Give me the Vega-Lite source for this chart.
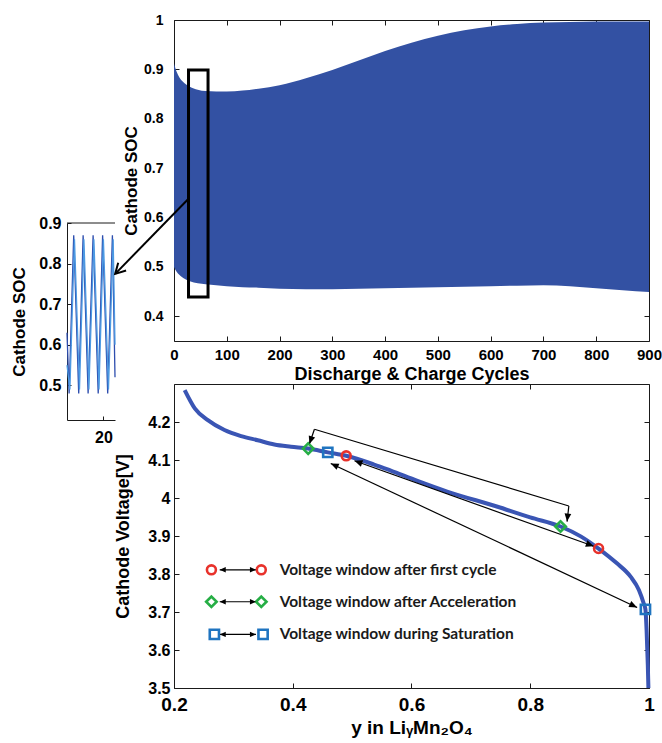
{
  "$schema": "https://vega.github.io/schema/vega-lite/v6.json",
  "background": "white",
  "padding": {"left": 10, "top": 12, "right": 0, "bottom": 0},
  "config": {
    "font": "Liberation Sans",
    "view": {"stroke": "#1a1a1a", "strokeWidth": 1},
    "axis": {
      "labelFont": "Liberation Sans",
      "labelFontWeight": "bold",
      "labelColor": "#000",
      "titleFont": "Liberation Sans",
      "titleFontWeight": "bold",
      "titleColor": "#000",
      "tickColor": "#1a1a1a",
      "domainColor": "#1a1a1a",
      "grid": false,
      "tickSize": -5,
      "labelFlush": false,
      "labelOverlap": false,
      "domain": false
    }
  },
  "spacing": -8,
  "hconcat": [
    {
      "spacing": 10,
      "vconcat": [
        {
          "width": 48,
          "height": 185,
          "view": {"stroke": null},
          "data": {"values": [{"k": 1}]},
          "mark": {"type": "point", "opacity": 0},
          "encoding": {}
        },
        {
          "width": 48,
          "height": 197,
          "view": {"stroke": null},
          "data": {
            "values": [
              {"t": 16.2, "v": 0.63, "s": "a"},
              {"t": 16.42, "v": 0.48, "s": "a"},
              {"t": 16.9, "v": 0.87, "s": "a"},
              {"t": 17.42, "v": 0.48, "s": "a"},
              {"t": 17.88, "v": 0.87, "s": "a"},
              {"t": 18.4, "v": 0.48, "s": "a"},
              {"t": 18.92, "v": 0.87, "s": "a"},
              {"t": 19.45, "v": 0.48, "s": "a"},
              {"t": 19.91, "v": 0.87, "s": "a"},
              {"t": 20.44, "v": 0.48, "s": "a"},
              {"t": 20.93, "v": 0.87, "s": "a"},
              {"t": 21.2, "v": 0.52, "s": "a"},
              {"t": 16.2, "v": 0.55, "s": "b"},
              {"t": 16.5, "v": 0.49, "s": "b"},
              {"t": 16.98, "v": 0.86, "s": "b"},
              {"t": 17.5, "v": 0.49, "s": "b"},
              {"t": 17.96, "v": 0.86, "s": "b"},
              {"t": 18.48, "v": 0.49, "s": "b"},
              {"t": 19.0, "v": 0.86, "s": "b"},
              {"t": 19.53, "v": 0.49, "s": "b"},
              {"t": 19.99, "v": 0.86, "s": "b"},
              {"t": 20.52, "v": 0.49, "s": "b"},
              {"t": 21.01, "v": 0.86, "s": "b"},
              {"t": 21.2, "v": 0.6, "s": "b"}
            ]
          },
          "layer": [
            {
              "transform": [{"filter": "datum.s == 'a'"}],
              "mark": {"type": "line", "strokeWidth": 1.3, "color": "#2D4DAE"},
              "encoding": {
                "x": {
                  "field": "t", "type": "quantitative",
                  "scale": {"domain": [16.2, 21.2], "nice": false, "zero": false},
                  "axis": {"values": [20], "format": "d", "labelFontSize": 16, "labelPadding": 13, "tickSize": -4, "domain": true, "title": null}
                },
                "y": {
                  "field": "v", "type": "quantitative",
                  "scale": {"domain": [0.415, 0.9], "nice": false, "zero": false},
                  "axis": {"values": [0.5, 0.6, 0.7, 0.8, 0.9], "format": ".1f", "labelFontSize": 16, "labelPadding": 10, "tickSize": -4, "domain": true, "title": "Cathode SOC", "titleFontSize": 17, "titlePadding": 10}
                },
                "order": {"field": "t", "type": "quantitative"}
              }
            },
            {
              "transform": [{"filter": "datum.s == 'b'"}],
              "mark": {"type": "line", "strokeWidth": 1.3, "color": "#4C9AE3"},
              "encoding": {
                "x": {"field": "t", "type": "quantitative"},
                "y": {"field": "v", "type": "quantitative"},
                "order": {"field": "t", "type": "quantitative"}
              }
            },
            {
              "data": {"values": [{"v": 0.9}]},
              "mark": {"type": "rule", "color": "#1a1a1a", "strokeWidth": 1},
              "encoding": {"y": {"field": "v", "type": "quantitative"}}
            }
          ]
        }
      ]
    },
    {
      "spacing": -4,
      "vconcat": [
        {
          "width": 475,
          "height": 321,
          "layer": [
            {
              "data": {
                "values": [
                  {"cycle": 0, "upper": 0.912, "lower": 0.5},
                  {"cycle": 5, "upper": 0.895, "lower": 0.49},
                  {"cycle": 10, "upper": 0.884, "lower": 0.484},
                  {"cycle": 20, "upper": 0.872, "lower": 0.476},
                  {"cycle": 30, "upper": 0.865, "lower": 0.471},
                  {"cycle": 45, "upper": 0.859, "lower": 0.467},
                  {"cycle": 60, "upper": 0.856, "lower": 0.465},
                  {"cycle": 80, "upper": 0.855, "lower": 0.463},
                  {"cycle": 100, "upper": 0.855, "lower": 0.461},
                  {"cycle": 130, "upper": 0.857, "lower": 0.459},
                  {"cycle": 160, "upper": 0.861, "lower": 0.458},
                  {"cycle": 200, "upper": 0.868, "lower": 0.456},
                  {"cycle": 250, "upper": 0.882, "lower": 0.455},
                  {"cycle": 300, "upper": 0.899, "lower": 0.455},
                  {"cycle": 350, "upper": 0.918, "lower": 0.456},
                  {"cycle": 400, "upper": 0.937, "lower": 0.457},
                  {"cycle": 450, "upper": 0.954, "lower": 0.458},
                  {"cycle": 500, "upper": 0.968, "lower": 0.459},
                  {"cycle": 550, "upper": 0.979, "lower": 0.46},
                  {"cycle": 600, "upper": 0.987, "lower": 0.461},
                  {"cycle": 650, "upper": 0.992, "lower": 0.462},
                  {"cycle": 700, "upper": 0.995, "lower": 0.463},
                  {"cycle": 750, "upper": 0.996, "lower": 0.461},
                  {"cycle": 800, "upper": 0.997, "lower": 0.457},
                  {"cycle": 850, "upper": 0.997, "lower": 0.453},
                  {"cycle": 900, "upper": 0.997, "lower": 0.449}
                ]
              },
              "mark": {"type": "area", "color": "#3351A3", "interpolate": "monotone"},
              "encoding": {
                "x": {
                  "field": "cycle", "type": "quantitative",
                  "scale": {"domain": [0, 900], "nice": false},
                  "axis": {"values": [0, 100, 200, 300, 400, 500, 600, 700, 800, 900], "format": "d", "labelFontSize": 15, "labelPadding": 11, "title": "Discharge & Charge Cycles", "titleFontSize": 18, "titlePadding": 3}
                },
                "y": {
                  "field": "upper", "type": "quantitative",
                  "scale": {"domain": [0.35, 1], "nice": false, "zero": false},
                  "axis": {"values": [0.4, 0.5, 0.6, 0.7, 0.8, 0.9, 1], "format": ".1~f", "labelFontSize": 14, "labelPadding": 16, "title": "Cathode SOC", "titleFontSize": 17, "titlePadding": 3}
                },
                "y2": {"field": "lower"}
              }
            },
            {
              "data": {"values": [{"c1": 27.5, "c2": 64.5, "s1": 0.439, "s2": 0.899}]},
              "mark": {"type": "rect", "filled": false, "stroke": "#000", "strokeWidth": 3},
              "encoding": {
                "x": {"field": "c1", "type": "quantitative", "axis": {"orient": "top", "values": [0, 100, 200, 300, 400, 500, 600, 700, 800, 900], "labels": false, "title": null}},
                "x2": {"field": "c2"},
                "y": {"field": "s1", "type": "quantitative", "axis": {"orient": "right", "values": [0.4, 0.5, 0.6, 0.7, 0.8, 0.9, 1], "labels": false, "title": null}},
                "y2": {"field": "s2"}
              }
            },
            {
              "data": {"values": [{"c1": 27.5, "s1": 0.638, "c2": -111.4, "s2": 0.486}]},
              "mark": {"type": "rule", "color": "#000", "strokeWidth": 2, "clip": false},
              "encoding": {
                "x": {"field": "c1", "type": "quantitative", "axis": null},
                "x2": {"field": "c2"},
                "y": {"field": "s1", "type": "quantitative", "axis": null},
                "y2": {"field": "s2"}
              }
            },
            {
              "data": {"values": [{"c1": -111.4, "s1": 0.486}]},
              "mark": {"type": "point", "shape": "M-1,-0.55L0,0L-1,0.55", "filled": false, "color": "#000", "strokeWidth": 2, "size": 400, "angle": 134, "opacity": 1, "clip": false},
              "encoding": {
                "x": {"field": "c1", "type": "quantitative", "axis": null},
                "y": {"field": "s1", "type": "quantitative", "axis": null}
              }
            }
          ],
          "resolve": {"axis": {"x": "independent", "y": "independent"}}
        },
        {
          "width": 475,
          "height": 304,
          "layer": [
            {
              "data": {
                "values": [
                  {"x": 0.218, "v": 4.284}, {"x": 0.235, "v": 4.236}, {"x": 0.257, "v": 4.205},
                  {"x": 0.285, "v": 4.179}, {"x": 0.313, "v": 4.163}, {"x": 0.341, "v": 4.152},
                  {"x": 0.369, "v": 4.141}, {"x": 0.397, "v": 4.135}, {"x": 0.426, "v": 4.13},
                  {"x": 0.459, "v": 4.12}, {"x": 0.49, "v": 4.111}, {"x": 0.537, "v": 4.088},
                  {"x": 0.565, "v": 4.072}, {"x": 0.61, "v": 4.045}, {"x": 0.66, "v": 4.017},
                  {"x": 0.745, "v": 3.977}, {"x": 0.8, "v": 3.949}, {"x": 0.851, "v": 3.925},
                  {"x": 0.885, "v": 3.899}, {"x": 0.915, "v": 3.867}, {"x": 0.946, "v": 3.828},
                  {"x": 0.969, "v": 3.793}, {"x": 0.983, "v": 3.758}, {"x": 0.991, "v": 3.723},
                  {"x": 0.994, "v": 3.707}, {"x": 0.996, "v": 3.65}, {"x": 0.998, "v": 3.56},
                  {"x": 0.999, "v": 3.5}
                ]
              },
              "mark": {"type": "line", "color": "#3A55B4", "strokeWidth": 4, "interpolate": "monotone"},
              "encoding": {
                "x": {
                  "field": "x", "type": "quantitative",
                  "scale": {"domain": [0.2, 1], "nice": false, "zero": false},
                  "axis": {"values": [0.2, 0.4, 0.6, 0.8, 1], "format": ".1~f", "labelFontSize": 19, "labelPadding": 12, "title": "y in LiᵧMn₂O₄", "titleFontSize": 19, "titlePadding": 4}
                },
                "y": {
                  "field": "v", "type": "quantitative",
                  "scale": {"domain": [3.5, 4.3], "nice": false, "zero": false},
                  "axis": {"values": [3.5, 3.6, 3.7, 3.8, 3.9, 4, 4.1, 4.2], "format": ".1~f", "labelFontSize": 16, "labelPadding": 9, "title": "Cathode Voltage[V]", "titleFontSize": 18, "titlePadding": 15}
                }
              }
            },
            {
              "data": {
                "values": [
                  {"x": 0.428, "v": 4.142, "x2": 0.4365, "v2": 4.181},
                  {"x": 0.4365, "v": 4.181, "x2": 0.865, "v2": 3.979},
                  {"x": 0.865, "v": 3.979, "x2": 0.862, "v2": 3.938},
                  {"x": 0.504, "v": 4.098, "x2": 0.907, "v2": 3.873},
                  {"x": 0.464, "v": 4.091, "x2": 0.98, "v2": 3.712},
                  {"x": 0.277, "v": 3.811, "x2": 0.338, "v2": 3.811},
                  {"x": 0.277, "v": 3.727, "x2": 0.338, "v2": 3.727},
                  {"x": 0.277, "v": 3.641, "x2": 0.338, "v2": 3.641}
                ]
              },
              "mark": {"type": "rule", "color": "#000", "strokeWidth": 1.2},
              "encoding": {
                "x": {"field": "x", "type": "quantitative", "axis": {"orient": "top", "values": [0.2, 0.4, 0.6, 0.8, 1], "labels": false, "title": null}},
                "x2": {"field": "x2"},
                "y": {"field": "v", "type": "quantitative", "axis": {"orient": "right", "values": [3.5, 3.6, 3.7, 3.8, 3.9, 4, 4.1, 4.2], "labels": false, "title": null}},
                "y2": {"field": "v2"}
              }
            },
            {
              "data": {
                "values": [
                  {"x": 0.49, "v": 4.111, "kind": "first"},
                  {"x": 0.915, "v": 3.867, "kind": "first"},
                  {"x": 0.426, "v": 4.13, "kind": "accel"},
                  {"x": 0.851, "v": 3.925, "kind": "accel"},
                  {"x": 0.459, "v": 4.12, "kind": "sat"},
                  {"x": 0.994, "v": 3.707, "kind": "sat"},
                  {"x": 0.263, "v": 3.811, "kind": "first"},
                  {"x": 0.347, "v": 3.811, "kind": "first"},
                  {"x": 0.263, "v": 3.727, "kind": "accel"},
                  {"x": 0.347, "v": 3.727, "kind": "accel"},
                  {"x": 0.268, "v": 3.641, "kind": "sat"},
                  {"x": 0.35, "v": 3.641, "kind": "sat"}
                ]
              },
              "encoding": {
                "x": {"field": "x", "type": "quantitative", "axis": null},
                "y": {"field": "v", "type": "quantitative", "axis": null}
              },
              "layer": [
                {"transform": [{"filter": "datum.kind == 'first'"}], "mark": {"type": "point", "shape": "circle", "filled": false, "color": "#E8322B", "strokeWidth": 2.6, "size": 80, "opacity": 1}},
                {"transform": [{"filter": "datum.kind == 'accel'"}], "mark": {"type": "point", "shape": "diamond", "filled": false, "color": "#26AE45", "strokeWidth": 2.6, "size": 110, "opacity": 1}},
                {"transform": [{"filter": "datum.kind == 'sat'"}], "mark": {"type": "point", "shape": "square", "filled": false, "color": "#1F74C0", "strokeWidth": 2.6, "size": 85, "opacity": 1}}
              ]
            },
            {
              "data": {
                "values": [
                  {"x": 0.428, "v": 4.142, "head": "g1"},
                  {"x": 0.862, "v": 3.938, "head": "g2"},
                  {"x": 0.504, "v": 4.098, "head": "r1"},
                  {"x": 0.907, "v": 3.873, "head": "r2"},
                  {"x": 0.464, "v": 4.091, "head": "b1"},
                  {"x": 0.98, "v": 3.712, "head": "b2"},
                  {"x": 0.277, "v": 3.811, "head": "left"},
                  {"x": 0.277, "v": 3.727, "head": "left"},
                  {"x": 0.277, "v": 3.641, "head": "left"},
                  {"x": 0.338, "v": 3.811, "head": "right"},
                  {"x": 0.338, "v": 3.727, "head": "right"},
                  {"x": 0.338, "v": 3.641, "head": "right"}
                ]
              },
              "encoding": {
                "x": {"field": "x", "type": "quantitative", "axis": null},
                "y": {"field": "v", "type": "quantitative", "axis": null}
              },
              "layer": [
                {"transform": [{"filter": "datum.head == 'g1'"}], "mark": {"type": "point", "shape": "M0,0L-1,-0.42L-1,0.42Z", "filled": true, "color": "#000", "size": 256, "angle": 109, "opacity": 1}},
                {"transform": [{"filter": "datum.head == 'g2'"}], "mark": {"type": "point", "shape": "M0,0L-1,-0.42L-1,0.42Z", "filled": true, "color": "#000", "size": 256, "angle": 96, "opacity": 1}},
                {"transform": [{"filter": "datum.head == 'r1'"}], "mark": {"type": "point", "shape": "M0,0L-1,-0.42L-1,0.42Z", "filled": true, "color": "#000", "size": 256, "angle": 200, "opacity": 1}},
                {"transform": [{"filter": "datum.head == 'r2'"}], "mark": {"type": "point", "shape": "M0,0L-1,-0.42L-1,0.42Z", "filled": true, "color": "#000", "size": 256, "angle": 20, "opacity": 1}},
                {"transform": [{"filter": "datum.head == 'b1'"}], "mark": {"type": "point", "shape": "M0,0L-1,-0.42L-1,0.42Z", "filled": true, "color": "#000", "size": 256, "angle": 205, "opacity": 1}},
                {"transform": [{"filter": "datum.head == 'b2'"}], "mark": {"type": "point", "shape": "M0,0L-1,-0.42L-1,0.42Z", "filled": true, "color": "#000", "size": 256, "angle": 25, "opacity": 1}},
                {"transform": [{"filter": "datum.head == 'left'"}], "mark": {"type": "point", "shape": "M0,0L-1,-0.45L-1,0.45Z", "filled": true, "color": "#000", "size": 144, "angle": 180, "opacity": 1}},
                {"transform": [{"filter": "datum.head == 'right'"}], "mark": {"type": "point", "shape": "M0,0L-1,-0.45L-1,0.45Z", "filled": true, "color": "#000", "size": 144, "angle": 0, "opacity": 1}}
              ]
            },
            {
              "data": {
                "values": [
                  {"x": 0.378, "v": 3.811, "label": "Voltage window after first cycle"},
                  {"x": 0.378, "v": 3.727, "label": "Voltage window after Acceleration"},
                  {"x": 0.378, "v": 3.641, "label": "Voltage window during Saturation"}
                ]
              },
              "mark": {"type": "text", "align": "left", "baseline": "middle", "font": "Lato", "fontWeight": "bold", "fontSize": 15.5, "color": "#1a1a1a"},
              "encoding": {
                "x": {"field": "x", "type": "quantitative", "axis": null},
                "y": {"field": "v", "type": "quantitative", "axis": null},
                "text": {"field": "label"}
              }
            }
          ],
          "resolve": {"axis": {"x": "independent", "y": "independent"}}
        }
      ]
    }
  ]
}
